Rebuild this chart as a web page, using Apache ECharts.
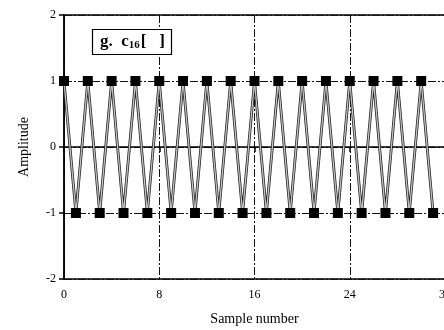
<!DOCTYPE html>
<html>
<head>
<meta charset="utf-8">
<script src="https://cdn.jsdelivr.net/npm/echarts@6/dist/echarts.min.js"></script>
<style>
  html, body { margin: 0; padding: 0; background: #fff; }
  #chart { width: 444px; height: 330px; }
</style>
</head>
<body>
<div id="chart"></div>
<script>
// sample index 0..31, alternating +1 / -1 (c16 cosine at Nyquist)
const sampleIdx = [0, 1, 2, 3, 4, 5, 6, 7, 8, 9, 10, 11, 12, 13, 14, 15,
  16, 17, 18, 19, 20, 21, 22, 23, 24, 25, 26, 27, 28, 29, 30, 31]
const amplitude = [1, -1, 1, -1, 1, -1, 1, -1, 1, -1, 1, -1, 1, -1, 1, -1,
  1, -1, 1, -1, 1, -1, 1, -1, 1, -1, 1, -1, 1, -1, 1, -1]
const points = sampleIdx.map((x, i) => [x, amplitude[i]])

const serif = '"Liberation Serif", "DejaVu Serif", serif'
const dashDot = [8, 2, 2, 2]

const chart = echarts.init(document.getElementById('chart'), undefined, { renderer: 'canvas' })
chart.setOption({
  animation: false,
  backgroundColor: '#fff',
  title: {
    text: '{a|g.  c}{s|16}{a|[   ]}',
    left: 92,
    top: 28,
    padding: [4, 7, 4, 8],
    borderColor: '#000',
    borderWidth: 1.2,
    backgroundColor: '#fff',
    textStyle: {
      rich: {
        a: { fontFamily: serif, fontSize: 17, color: '#000' },
        s: { fontFamily: serif, fontSize: 11, color: '#000', padding: [8, 1, 0, 0] },
      },
    },
  },
  grid: {
    left: 64,
    right: -1,
    top: 15,
    bottom: 51,
    outerBoundsMode: 'none',
    show: true,
    borderColor: '#000',
    borderWidth: 1.5,
  },
  xAxis: {
    type: 'value',
    min: 0,
    max: 32,
    interval: 8,
    name: 'Sample number',
    nameLocation: 'middle',
    nameGap: 33,
    nameTextStyle: { fontFamily: serif, fontSize: 14, color: '#000' },
    axisLine: { lineStyle: { color: '#000', width: 1.5 } },
    axisTick: { show: true, length: 5, lineStyle: { color: '#000', width: 1.5 } },
    axisLabel: { fontFamily: serif, fontSize: 12, color: '#000', margin: 10 },
    splitLine: { show: true, lineStyle: { color: '#111', width: 1, type: dashDot } },
  },
  yAxis: {
    type: 'value',
    min: -2,
    max: 2,
    interval: 1,
    name: 'Amplitude',
    nameLocation: 'middle',
    nameGap: 33,
    nameTextStyle: { fontFamily: serif, fontSize: 14, color: '#000' },
    axisLine: { show: true, lineStyle: { color: '#000', width: 1.5 } },
    axisTick: { show: true, length: 5, lineStyle: { color: '#000', width: 1.5 } },
    axisLabel: { fontFamily: serif, fontSize: 12, color: '#000', margin: 8 },
    splitLine: { show: true, lineStyle: { color: '#111', width: 1, type: dashDot } },
  },
  series: [
    {
      // dark outline of the trace
      type: 'line',
      data: points,
      showSymbol: false,
      lineStyle: { color: '#222', width: 2.8 },
      z: 2,
    },
    {
      // grey core plus square markers
      type: 'line',
      data: points,
      symbol: 'rect',
      symbolSize: 10,
      itemStyle: { color: '#000' },
      lineStyle: { color: '#c4c4c4', width: 1.3 },
      z: 3,
    },
  ],
})
</script>
</body>
</html>
